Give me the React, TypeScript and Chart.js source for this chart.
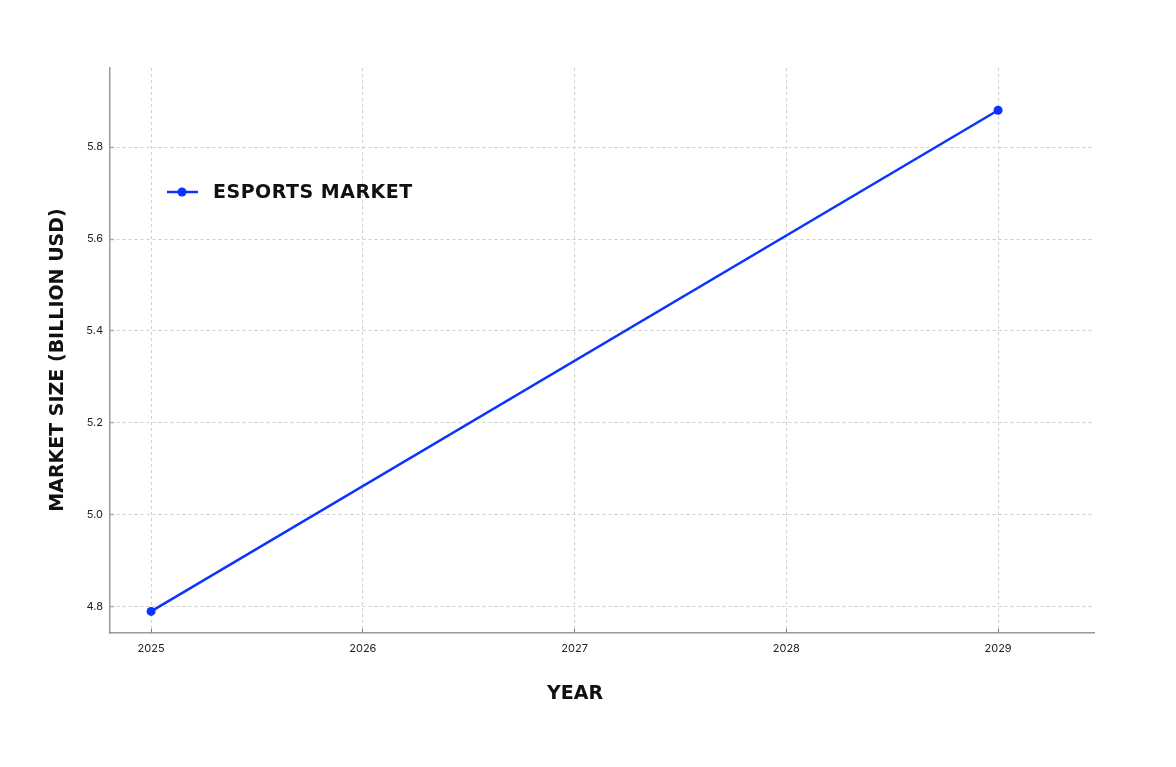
import { useEffect, useRef } from "react"
import { Chart, registerables, Plugin } from "chart.js"

Chart.register(...registerables)

const years = [2025, 2029]
const marketSize = [4.79, 5.88]
const seriesLabel = "ESPORTS MARKET"
const xTitle = "YEAR"
const yTitle = "MARKET SIZE (BILLION USD)"

const lineColor = "#0a35ff"
const titleFont = "'DejaVu Sans', sans-serif"
const tickFont = "Inter, 'DejaVu Sans', sans-serif"

// legend inside the plot area plus the two axis titles (offset like the original)
const annotations: Plugin<"line"> = {
  id: "annotations",
  afterDraw(chart) {
    const ctx = chart.ctx
    const area = chart.chartArea
    const ds = chart.data.datasets[0]
    const x = area.left + 57
    const y = area.top + 124
    ctx.save()
    ctx.strokeStyle = lineColor
    ctx.lineWidth = 2.5
    ctx.beginPath()
    ctx.moveTo(x, y)
    ctx.lineTo(x + 31, y)
    ctx.stroke()
    ctx.fillStyle = lineColor
    ctx.beginPath()
    ctx.arc(x + 15, y, 4.5, 0, Math.PI * 2)
    ctx.fill()

    ctx.fillStyle = "#111"
    ctx.font = `bold 19px ${titleFont}`
    ctx.textBaseline = "middle"
    ;(ctx as any).letterSpacing = "0.5px"
    ctx.fillText(String(ds.label), x + 46, y + 1)
    ;(ctx as any).letterSpacing = "0px"

    ctx.font = `bold 19px ${titleFont}`
    ctx.textAlign = "center"
    ctx.fillText(xTitle, area.left + 465, area.bottom + 61)

    ctx.translate(area.left - 52, area.top + 292)
    ctx.rotate(-Math.PI / 2)
    ctx.fillText(yTitle, 0, 0)
    ctx.restore()
  },
}

export default function App() {
  const chartRef = useRef<HTMLCanvasElement>(null)
  const chartInstance = useRef<Chart | null>(null)

  useEffect(() => {
    document.body.style.margin = "0"
    if (!chartRef.current) return
    if (chartInstance.current) chartInstance.current.destroy()
    const ctx = chartRef.current.getContext("2d")
    if (!ctx) return

    chartInstance.current = new Chart(ctx, {
      type: "line",
      data: {
        datasets: [
          {
            label: seriesLabel,
            data: years.map((yr, i) => ({ x: yr, y: marketSize[i] })),
            borderColor: lineColor,
            backgroundColor: lineColor,
            borderWidth: 2.5,
            pointRadius: 4.5,
            pointBorderWidth: 0,
            tension: 0,
          },
        ],
      },
      options: {
        animation: false,
        responsive: false,
        layout: { padding: { top: 68, right: 82, left: 0, bottom: 0 } },
        plugins: {
          legend: { display: false },
          tooltip: { enabled: false },
        },
        scales: {
          x: {
            type: "linear",
            min: 2024.806,
            max: 2029.453,
            afterFit: (scale) => {
              scale.height = 134
            },
            grid: { color: "#cfcfcf", tickLength: -4, tickColor: "#777", tickWidth: 1 },
            border: { color: "#9a9a9a", width: 1.5, dash: [3, 3] },
            ticks: {
              stepSize: 1,
              includeBounds: false,
              padding: 13,
              color: "#222",
              font: { family: tickFont, size: 11 },
              callback: (v) => String(v),
            },
          },
          y: {
            min: 4.743,
            max: 5.972,
            afterFit: (scale) => {
              scale.width = 110
            },
            grid: { color: "#cfcfcf", tickLength: -4, tickColor: "#aaa", tickWidth: 1.5 },
            border: { color: "#9a9a9a", width: 1.5, dash: [3, 3] },
            ticks: {
              stepSize: 0.2,
              includeBounds: false,
              padding: 11,
              color: "#222",
              font: { family: tickFont, size: 11 },
              callback: (v) => Number(v).toFixed(1),
            },
          },
        },
      },
      plugins: [annotations],
    })

    return () => {
      if (chartInstance.current) {
        chartInstance.current.destroy()
        chartInstance.current = null
      }
    }
  }, [])

  return (
    <div style={{ width: 1176, height: 767, background: "#fff" }}>
      <canvas ref={chartRef} width={1176} height={767} style={{ width: 1176, height: 767 }} />
    </div>
  )
}
